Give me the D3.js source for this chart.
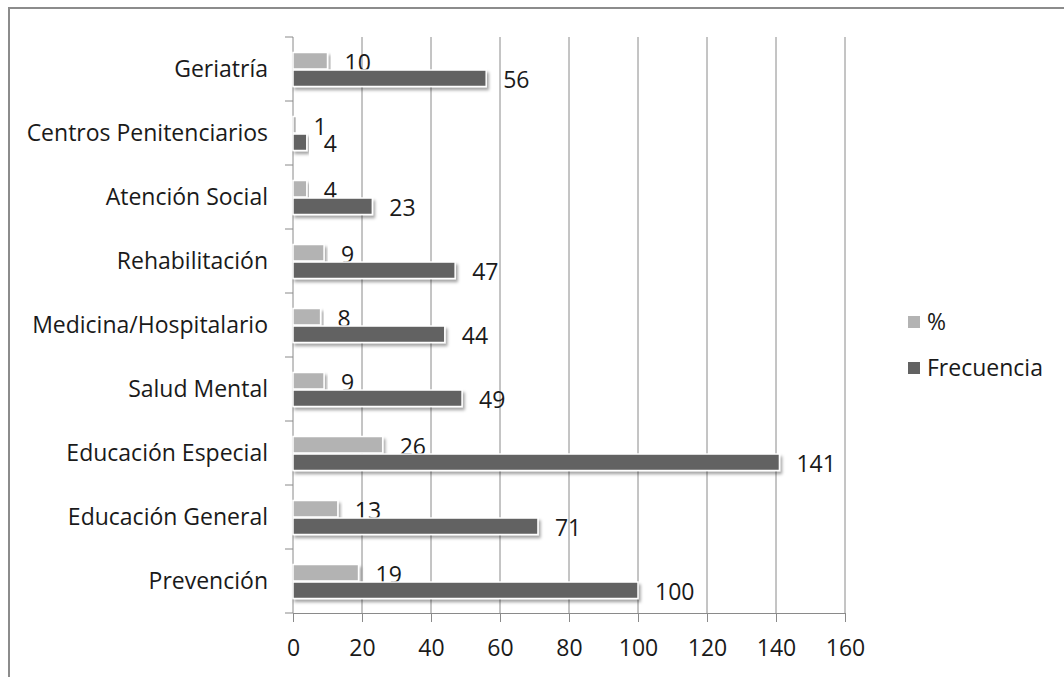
<!DOCTYPE html>
<html>
<head>
<meta charset="utf-8">
<script src="https://cdn.jsdelivr.net/npm/d3@7"></script>
<style>
  html, body { margin: 0; padding: 0; background: #fff; }
  svg { display: block; font-family: "Open Sans", sans-serif; }
</style>
</head>
<body>
<div id="chart"></div>
<script>
// categories, top to bottom as drawn
const categories = [
  'Geriatría',
  'Centros Penitenciarios',
  'Atención Social',
  'Rehabilitación',
  'Medicina/Hospitalario',
  'Salud Mental',
  'Educación Especial',
  'Educación General',
  'Prevención',
];
const pctValues = [10, 1, 4, 9, 8, 9, 26, 13, 19];
const freqValues = [56, 4, 23, 47, 44, 49, 141, 71, 100];
const xTicks = [0, 20, 40, 60, 80, 100, 120, 140, 160];
const seriesNames = ['%', 'Frecuencia'];
const seriesColors = ['#b3b3b3', '#626262'];

const W = 1064, H = 677;
const FONT = 23;
const plot = { left: 293, right: 845, top: 37, bottom: 613 };

const svg = d3.select('#chart').append('svg')
  .attr('width', W)
  .attr('height', H)
  .attr('viewBox', `0 0 ${W} ${H}`);

const defs = svg.append('defs');
const shadow = defs.append('filter')
  .attr('id', 'shadow')
  .attr('x', '-5%').attr('y', '-40%')
  .attr('width', '115%').attr('height', '200%');
shadow.append('feDropShadow')
  .attr('dx', 2).attr('dy', 3)
  .attr('stdDeviation', 1.8)
  .attr('flood-color', '#000')
  .attr('flood-opacity', 0.35);

// outer frame (cut off on right and bottom)
svg.append('rect')
  .attr('x', 9).attr('y', 8)
  .attr('width', W + 20).attr('height', H + 20)
  .attr('fill', 'none')
  .attr('stroke', '#8c8c8c')
  .attr('stroke-width', 2);

const x = d3.scaleLinear().domain([0, 160]).range([plot.left, plot.right]);
const y = d3.scaleBand().domain(categories).range([plot.top, plot.bottom]);
const inner = d3.scaleBand().domain(['pct', 'freq'])
  .range([15.5, y.bandwidth() - 14.5]).paddingInner(0.06);

// vertical grid
svg.append('g')
  .selectAll('line')
  .data(xTicks.slice(1))
  .join('line')
  .attr('x1', d => x(d)).attr('x2', d => x(d))
  .attr('y1', plot.top).attr('y2', plot.bottom)
  .attr('stroke', '#8a8a8a')
  .attr('stroke-width', 1);

// bottom axis
const xAxis = svg.append('g')
  .attr('transform', `translate(0,${plot.bottom})`)
  .call(d3.axisBottom(x).tickValues(xTicks).tickSize(9).tickPadding(18));
xAxis.select('.domain').attr('stroke', '#8a8a8a');
xAxis.selectAll('.tick line').attr('stroke', '#8a8a8a');
xAxis.selectAll('.tick text')
  .attr('font-size', FONT)
  .attr('fill', '#1a1a1a')
  .attr('font-family', '"Open Sans", sans-serif');

// left axis: ticks at band boundaries
const yAxisG = svg.append('g');
yAxisG.append('line')
  .attr('x1', plot.left).attr('x2', plot.left)
  .attr('y1', plot.top).attr('y2', plot.bottom)
  .attr('stroke', '#8a8a8a');
const bounds = categories.map(c => y(c)).concat([plot.bottom]);
yAxisG.selectAll('line.tk')
  .data(bounds)
  .join('line')
  .attr('class', 'tk')
  .attr('x1', plot.left - 8).attr('x2', plot.left)
  .attr('y1', d => d).attr('y2', d => d)
  .attr('stroke', '#8a8a8a');
yAxisG.selectAll('text')
  .data(categories)
  .join('text')
  .attr('x', plot.left - 25)
  .attr('y', d => y(d) + y.bandwidth() / 2)
  .attr('dy', '0.35em')
  .attr('text-anchor', 'end')
  .attr('font-size', FONT)
  .attr('fill', '#1a1a1a')
  .text(d => d);

// bars
const rows = categories.map((c, i) => ({ cat: c, pct: pctValues[i], freq: freqValues[i] }));
const groups = svg.append('g')
  .selectAll('g')
  .data(rows)
  .join('g')
  .attr('transform', d => `translate(0,${y(d.cat)})`);

['pct', 'freq'].forEach((key, si) => {
  groups.append('rect')
    .attr('x', x(0))
    .attr('y', inner(key))
    .attr('width', d => x(d[key]) - x(0))
    .attr('height', inner.bandwidth())
    .attr('fill', seriesColors[si])
    .attr('stroke', '#fff')
    .attr('stroke-width', 1.5)
    .attr('filter', 'url(#shadow)');
  groups.append('text')
    .attr('x', d => x(d[key]) + 17)
    .attr('y', inner(key) + inner.bandwidth() / 2 + 2)
    .attr('dy', '0.35em')
    .attr('font-size', FONT)
    .attr('fill', '#1a1a1a')
    .text(d => d[key]);
});

// legend
const legend = svg.append('g')
  .selectAll('g')
  .data(seriesNames)
  .join('g')
  .attr('transform', (d, i) => `translate(908,${322 + i * 46})`);
legend.append('rect')
  .attr('x', 0).attr('y', -6)
  .attr('width', 12).attr('height', 12)
  .attr('fill', (d, i) => seriesColors[i]);
legend.append('text')
  .attr('x', 19)
  .attr('y', 0)
  .attr('dy', '0.35em')
  .attr('font-size', FONT)
  .attr('fill', '#1a1a1a')
  .text(d => d);
</script>
</body>
</html>
